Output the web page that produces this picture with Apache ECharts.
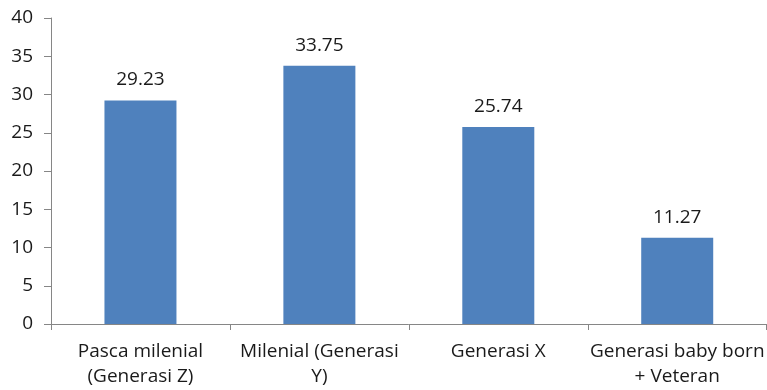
<!DOCTYPE html>
<html>
<head>
<meta charset="utf-8">
<script src="https://cdn.jsdelivr.net/npm/echarts@6/dist/echarts.min.js"></script>
<style>
  html, body { margin: 0; padding: 0; background: #fff; }
  #chart { width: 767px; height: 390px; }
</style>
</head>
<body>
<div id="chart"></div>
<script>
// Generational groups and their shares
const categories = ['Pasca milenial\n(Generasi Z)', 'Milenial (Generasi\nY)', 'Generasi X', 'Generasi baby born\n+ Veteran'];
const values = [29.23, 33.75, 25.74, 11.27];
const yMin = 0, yMax = 40, yStep = 5;

const fontFamily = '"Open Sans", Carlito, Lato, sans-serif';
const textColor = '#1a1a1a';
const axisColor = '#868686';

const chart = echarts.init(document.getElementById('chart'));
chart.setOption({
  animation: false,
  grid: { left: 51, right: -4, top: 18, bottom: 66, containLabel: false },
  xAxis: {
    type: 'category',
    data: categories,
    axisLine: { lineStyle: { color: axisColor, width: 1 } },
    axisTick: { show: true, length: 6, lineStyle: { color: axisColor } },
    axisLabel: {
      interval: 0,
      margin: 15,
      color: textColor,
      fontFamily: fontFamily,
      fontSize: 19,
      lineHeight: 25,
      align: 'center'
    },
    splitLine: { show: false }
  },
  yAxis: {
    type: 'value',
    min: yMin,
    max: yMax,
    interval: yStep,
    axisLine: { show: true, lineStyle: { color: axisColor, width: 1 } },
    axisTick: { show: true, length: 7, lineStyle: { color: axisColor } },
    axisLabel: {
      margin: 18,
      color: textColor,
      fontFamily: fontFamily,
      fontSize: 19
    },
    splitLine: { show: false }
  },
  series: [{
    type: 'bar',
    data: values,
    barWidth: 72,
    itemStyle: { color: '#4F81BD' },
    label: {
      show: true,
      position: 'top',
      distance: 11,
      color: textColor,
      fontFamily: fontFamily,
      fontSize: 19,
      formatter: p => p.value.toFixed(2)
    }
  }]
});
</script>
</body>
</html>
